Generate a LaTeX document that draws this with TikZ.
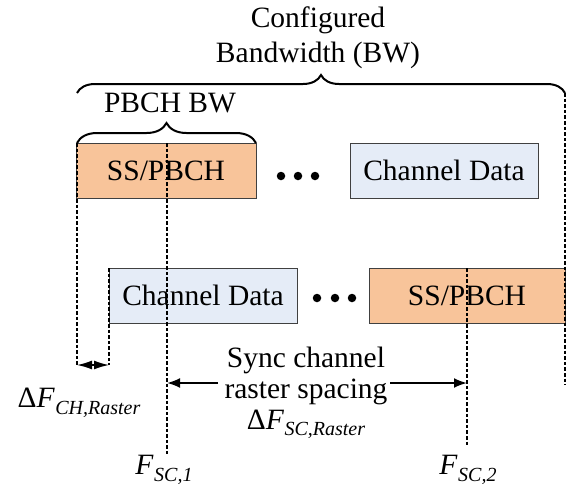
\documentclass[tikz,border=0pt]{standalone}
\usepackage{fontspec}
\setmainfont{Liberation Serif}
\usetikzlibrary{decorations.pathreplacing,arrows.meta}

\definecolor{ssfill}{HTML}{F8C49A}
\definecolor{cdfill}{HTML}{E5ECF7}
\definecolor{boxline}{HTML}{404040}

% frequency label: italic symbol with a smaller lowered subscript
\newcommand{\freqlab}[2]{\textit{#1}\kern0.5pt\raisebox{-0.22em}{\fontsize{20}{20}\selectfont\textit{#2}}}

\begin{document}
\begin{tikzpicture}[x=1pt,y=-1pt,
  font=\fontsize{29.5}{35}\selectfont,
  blockbox/.style={draw=boxline,line width=0.9pt,minimum height=55pt,inner sep=0pt},
  ssbox/.style={blockbox,fill=ssfill},
  cdbox/.style={blockbox,fill=cdfill},
  raster/.style={line width=2.2pt,dash pattern=on 3.6pt off 2pt},
  bracepath/.style={line width=2pt,decorate,
    decoration={brace,amplitude=#1,raise=0pt}},
  dotmark/.style={circle,fill=black,inner sep=0pt,minimum size=8.5pt},
  spanarrow/.style={line width=2pt,-{Latex[length=13pt,width=10pt]}}]
\useasboundingbox (0,0) rectangle (568,488);

% upper row of blocks
\node[ssbox,minimum width=180pt] (ss1) at (166,170.5) {SS/PBCH};
\node[cdbox,minimum width=188pt] (cd1) at (444,170.5) {Channel Data};
\node[dotmark] (d1) at (281,176) {};
\node[dotmark] (d2) at (298,176) {};
\node[dotmark] (d3) at (315,176) {};

% lower row of blocks
\node[cdbox,minimum width=188pt] (cd2) at (203,295.5) {Channel Data};
\node[ssbox,minimum width=196pt] (ss2) at (467,295.5) {SS/PBCH};
\node[dotmark] (d4) at (317,298) {};
\node[dotmark] (d5) at (335,298) {};
\node[dotmark] (d6) at (352,298) {};

% braces and their labels
\coordinate (bwL) at (77,93);
\coordinate (bwR) at (565,93);
\draw[bracepath=18pt] (bwL) -- (bwR);
\node[align=center] (bwlab) at (318,38) {Configured\\Bandwidth (BW)};

\coordinate (pbL) at (77,143);
\coordinate (pbR) at (256,143);
\draw[bracepath=20pt] (pbL) -- (pbR);
\node (pblab) at (170,103) {PBCH BW};

% raster lines
\coordinate (r1top) at (77,143);   \coordinate (r1bot) at (77,365);
\coordinate (r2top) at (109,268);  \coordinate (r2bot) at (109,365);
\coordinate (f1top) at (167,143);  \coordinate (f1bot) at (167,454);
\coordinate (f2top) at (467,268);  \coordinate (f2bot) at (467,447);
\coordinate (rrtop) at (565,93);   \coordinate (rrbot) at (565,385);
\draw[raster] (r1top) -- (r1bot);
\draw[raster] (r2top) -- (r2bot);
\draw[raster] (f1top) -- (f1bot);
\draw[raster] (f2top) -- (f2bot);
\draw[raster] (rrtop) -- (rrbot);

% channel raster step
\coordinate (chL) at (77,365);
\coordinate (chR) at (109,365);
\draw[line width=1.5pt,{Latex[length=15pt,width=9pt]}-{Latex[length=15pt,width=9pt]}] (chL) -- (chR);
\node (chlab) at (79,403) {Δ\freqlab{F}{CH,Raster}};

% sync raster spacing
\node[align=center,font=\fontsize{29.5}{31}\selectfont] (synclab) at (306,393)
  {Sync channel\\raster spacing\\Δ\freqlab{F}{SC,Raster}};
\coordinate (sL) at (167,383);
\coordinate (sR) at (467,383);
\coordinate (sLa) at (218,383);
\coordinate (sRa) at (390,383);
\draw[spanarrow] (sLa) -- (sL);
\draw[spanarrow] (sRa) -- (sR);

% sync raster positions
\node (f1lab) at (164,470) {\freqlab{F}{SC,1}};
\node (f2lab) at (468,470) {\freqlab{F}{SC,2}};
\end{tikzpicture}
\end{document}
